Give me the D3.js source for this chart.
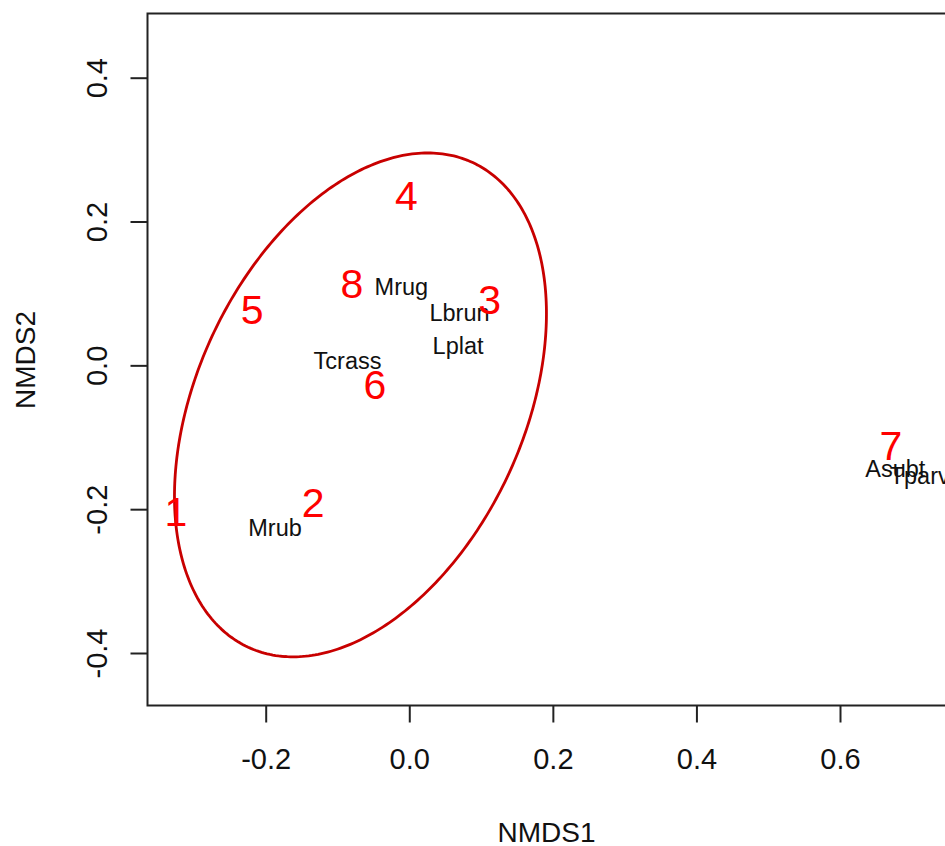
<!DOCTYPE html>
<html>
<head>
<meta charset="utf-8">
<script src="https://cdn.jsdelivr.net/npm/d3@7"></script>
<style>
  html, body { margin: 0; padding: 0; background: #fff; overflow: hidden; }
  text { font-family: "Liberation Sans", Arial, sans-serif; }
</style>
</head>
<body>
<div id="chart"></div>
<script>
// site scores (red numbers)
const siteLabels = ["1", "2", "3", "4", "5", "6", "7", "8"];
const siteX = [-0.325, -0.134, 0.112, -0.004, -0.219, -0.048, 0.671, -0.080];
const siteY = [-0.203, -0.191, 0.092, 0.237, 0.078, -0.027, -0.111, 0.114];

// species scores (black labels)
const speciesLabels = ["Mrug", "Lbrun", "Lplat", "Tcrass", "Mrub", "Asubt", "Tparv"];
const speciesX = [-0.011, 0.070, 0.068, -0.086, -0.187, 0.677, 0.711];
const speciesY = [0.110, 0.073, 0.027, 0.006, -0.226, -0.143, -0.153];

// group ellipse: centre, semi axes, rotation (degrees)
const ellipseCentre = [-0.068, -0.055];
const ellipseAxes = [0.3715, 0.2277];
const ellipseAngle = 65.1;

const xTicks = [-0.2, 0.0, 0.2, 0.4, 0.6];
const yTicks = [-0.4, -0.2, 0.0, 0.2, 0.4];

const width = 945, height = 846;
const box = { left: 147.5, top: 13.5, right: 947, bottom: 705.5 };

const x = d3.scaleLinear().domain([-0.2, 0.6]).range([265.7, 840]);
const y = d3.scaleLinear().domain([-0.4, 0.4]).range([653, 77.7]);

const svg = d3.select("#chart").append("svg")
    .attr("width", width)
    .attr("height", height);

// ellipse
const th = ellipseAngle * Math.PI / 180;
const ellipsePts = d3.range(0, 361).map(i => {
    const t = i * Math.PI / 180;
    const ex = ellipseAxes[0] * Math.cos(t), ey = ellipseAxes[1] * Math.sin(t);
    return [ellipseCentre[0] + ex * Math.cos(th) - ey * Math.sin(th),
            ellipseCentre[1] + ex * Math.sin(th) + ey * Math.cos(th)];
});
svg.append("path")
    .datum(ellipsePts)
    .attr("d", d3.line().x(d => x(d[0])).y(d => y(d[1])).curve(d3.curveLinearClosed))
    .attr("fill", "none")
    .attr("stroke", "#c80000")
    .attr("stroke-width", 2.8);

// species labels
svg.append("g").selectAll("text")
    .data(speciesLabels)
    .enter()
    .append("text")
    .attr("x", (d, i) => x(speciesX[i]))
    .attr("y", (d, i) => y(speciesY[i]))
    .attr("dy", "0.358em")
    .attr("text-anchor", "middle")
    .attr("font-size", 23.5)
    .attr("fill", "#111")
    .text(d => d);

// site labels
svg.append("g").selectAll("text")
    .data(siteLabels)
    .enter()
    .append("text")
    .attr("x", (d, i) => x(siteX[i]))
    .attr("y", (d, i) => y(siteY[i]))
    .attr("dy", "0.358em")
    .attr("text-anchor", "middle")
    .attr("font-size", 41)
    .attr("fill", "#ff0000")
    .text(d => d);

// frame
svg.append("rect")
    .attr("x", box.left)
    .attr("y", box.top)
    .attr("width", box.right - box.left)
    .attr("height", box.bottom - box.top)
    .attr("fill", "none")
    .attr("stroke", "#222")
    .attr("stroke-width", 2);

const fmt = d => d.toFixed(1);

const xAxis = svg.append("g")
    .attr("transform", `translate(0,${box.bottom})`)
    .call(d3.axisBottom(x).tickValues(xTicks).tickFormat(fmt).tickSize(17).tickSizeOuter(0).tickPadding(26));
xAxis.select(".domain").remove();
xAxis.selectAll("line").attr("stroke", "#222").attr("stroke-width", 2);
xAxis.selectAll("text").attr("font-size", 29).attr("fill", "#111")
    .attr("font-family", "Liberation Sans, Arial, sans-serif");

const yAxis = svg.append("g")
    .attr("transform", `translate(${box.left},0)`)
    .call(d3.axisLeft(y).tickValues(yTicks).tickFormat(fmt).tickSize(17).tickSizeOuter(0));
yAxis.select(".domain").remove();
yAxis.selectAll("line").attr("stroke", "#222").attr("stroke-width", 2);
yAxis.selectAll("text")
    .attr("x", null).attr("dy", null)
    .attr("transform", "translate(-41,0) rotate(-90)")
    .attr("text-anchor", "middle")
    .attr("font-size", 29).attr("fill", "#111")
    .attr("font-family", "Liberation Sans, Arial, sans-serif");

// axis titles
svg.append("text")
    .attr("x", 546.5)
    .attr("y", 841.5)
    .attr("text-anchor", "middle")
    .attr("font-size", 28)
    .attr("fill", "#111")
    .text("NMDS1");

svg.append("text")
    .attr("transform", "translate(35,360) rotate(-90)")
    .attr("text-anchor", "middle")
    .attr("font-size", 28)
    .attr("fill", "#111")
    .text("NMDS2");
</script>
</body>
</html>
